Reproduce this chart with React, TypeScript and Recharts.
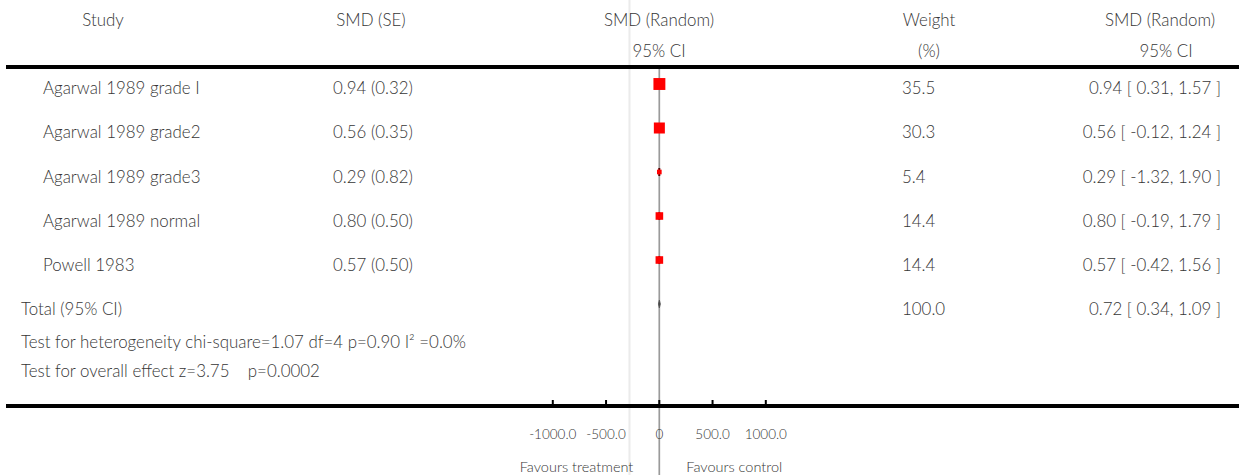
import React from 'react';
import { ComposedChart, Scatter, XAxis, YAxis, ReferenceLine, ErrorBar } from 'recharts';

// ---------- data ----------
const studies = [
  'Agarwal 1989 grade I',
  'Agarwal 1989 grade2',
  'Agarwal 1989 grade3',
  'Agarwal 1989 normal',
  'Powell 1983',
];
const smd = [0.94, 0.56, 0.29, 0.8, 0.57];
const se = [0.32, 0.35, 0.82, 0.5, 0.5];
const ciLow = [0.31, -0.12, -1.32, -0.19, -0.42];
const ciHigh = [1.57, 1.24, 1.9, 1.79, 1.56];
const weights = [35.5, 30.3, 5.4, 14.4, 14.4];

const totalLabel = 'Total (95% CI)';
const totalSmd = [0.72];
const totalLow = [0.34];
const totalHigh = [1.09];
const totalWeight = [100.0];

const heterogeneityText = 'Test for heterogeneity chi-square=1.07 df=4 p=0.90 I\u00B2 =0.0%';
const overallText = 'Test for overall effect z=3.75    p=0.0002';

const headerRow1 = ['Study', 'SMD (SE)', 'SMD (Random)', 'Weight', 'SMD (Random)'];
const headerRow2 = ['', '', '95% CI', '(%)', '95% CI'];

const xTicks = [-1000, -500, 0, 500, 1000];
const xTickLabels = ['-1000.0', '-500.0', '0', '500.0', '1000.0'];
const favoursLeft = 'Favours treatment';
const favoursRight = 'Favours control';

// ---------- layout ----------
const W = 1239;
const H = 475;
const FONT = 'Lato, "Open Sans", sans-serif';
const TEXT = '#363636';
const FS = 16.9;
const FW = 300;
const X_DOMAIN: [number, number] = [-6134, 5443];
const Y_DOMAIN: [number, number] = [-1.909, 7.318];
const TOP_RULE = -0.386;
const BOTTOM_Y = 8.886;
const GUIDE_X = -280;
const TOTAL_ROW = 5;
const H1_ROW = -1.55;
const H2_ROW = -0.86;
const HET_ROW = 5.75;
const OVR_ROW = 6.43;
const yTicks = [H1_ROW, H2_ROW, 0, 1, 2, 3, 4, TOTAL_ROW, HET_ROW, OVR_ROW];

const fmt2 = (v: number) => v.toFixed(2);
const ciText = (e: number, l: number, h: number) => `${fmt2(e)} [ ${fmt2(l)}, ${fmt2(h)} ]`;

const T = (p: any) => (
  <text
    fontFamily={FONT}
    fontSize={FS}
    fontWeight={FW}
    fill={TEXT}
    dominantBaseline="central"
    style={{ whiteSpace: 'pre' }}
    {...p}
  />
);

const RowTick = (props: any) => {
  const { y, payload } = props;
  const v = payload.value;
  const ty = y + 4;
  if (v === H1_ROW || v === H2_ROW) {
    const hr = v === H1_ROW ? headerRow1 : headerRow2;
    return (
      <g>
        <T x={103} y={ty} textAnchor="middle">{hr[0]}</T>
        <T x={371} y={ty} textAnchor="middle">{hr[1]}</T>
        <T x={659} y={ty} textAnchor="middle">{hr[2]}</T>
        <T x={929} y={ty} textAnchor="middle">{hr[3]}</T>
        <T x={v === H1_ROW ? 1160 : 1166} y={ty} textAnchor="middle">{hr[4]}</T>
      </g>
    );
  }
  if (v === TOTAL_ROW) {
    return (
      <g>
        <T x={21} y={ty} textAnchor="start">{totalLabel}</T>
        <T x={902} y={ty} textAnchor="start">{totalWeight[0].toFixed(1)}</T>
        <T x={1221} y={ty} textAnchor="end">{ciText(totalSmd[0], totalLow[0], totalHigh[0])}</T>
      </g>
    );
  }
  if (v === HET_ROW) {
    return <T x={21} y={ty} textAnchor="start">{heterogeneityText}</T>;
  }
  if (v === OVR_ROW) {
    return <T x={21} y={ty} textAnchor="start">{overallText}</T>;
  }
  const i = v as number;
  if (i >= 0 && i < studies.length) {
    return (
      <g>
        <T x={43} y={ty} textAnchor="start">{studies[i]}</T>
        <T x={333} y={ty} textAnchor="start">{`${fmt2(smd[i])} (${fmt2(se[i])})`}</T>
        <T x={902} y={ty} textAnchor="start">{weights[i].toFixed(1)}</T>
        <T x={1221} y={ty} textAnchor="end">{ciText(smd[i], ciLow[i], ciHigh[i])}</T>
      </g>
    );
  }
  return <g />;
};

const XTick = (props: any) => {
  const { x, y, payload, index } = props;
  const label = xTickLabels[index] ?? String(payload.value);
  return (
    <g>
      <line x1={x} x2={x} y1={y - 6} y2={y} stroke="#000" strokeWidth={2} />
      <T x={x} y={y + 28} textAnchor="middle" fontSize={13.5}>{label}</T>
      {payload.value === 0 && (
        <g>
          <T x={x - 26} y={y + 60} textAnchor="end" fontSize={14.5}>{favoursLeft}</T>
          <T x={x + 27} y={y + 60} textAnchor="start" fontSize={14.5}>{favoursRight}</T>
        </g>
      )}
    </g>
  );
};

const renderSquare = (props: any) => {
  const { cx, cy, payload } = props;
  const s = 2 * Math.sqrt(payload.w);
  return <rect x={cx - s / 2} y={cy - s / 2} width={s} height={s} fill="#ff0000" />;
};

const renderNothing = () => <g />;

const renderDiamond = (props: any) => {
  const { cx, cy } = props;
  return (
    <polygon
      points={`${cx - 1},${cy} ${cx},${cy - 4} ${cx + 1},${cy} ${cx},${cy + 4}`}
      fill="#444"
      stroke="#555"
      strokeWidth={0.8}
    />
  );
};

export default function App() {
  const rows = studies.map((name, i) => ({
    name,
    x: smd[i],
    y: i,
    w: weights[i],
    err: [smd[i] - ciLow[i], ciHigh[i] - smd[i]],
  }));
  const totalRows = totalSmd.map((e, i) => ({
    name: totalLabel,
    x: e,
    y: TOTAL_ROW,
    err: [e - totalLow[i], totalHigh[i] - e],
  }));
  return (
    <div style={{ position: 'absolute', left: 0, top: 0, width: W, height: H, background: '#fff' }}>
      <ComposedChart width={W} height={H} margin={{ top: 0, right: 0, bottom: 0, left: 5 }}>
        <XAxis
          type="number"
          dataKey="x"
          domain={X_DOMAIN}
          ticks={xTicks}
          interval={0}
          tickSize={0}
          tickMargin={0}
          tickLine={false}
          axisLine={{ stroke: '#000', strokeWidth: 4 }}
          height={69}
          tick={<XTick />}
          allowDataOverflow
        />
        <YAxis
          type="number"
          dataKey="y"
          domain={Y_DOMAIN}
          reversed
          ticks={yTicks}
          interval={0}
          width={1}
          axisLine={false}
          tickLine={false}
          tickSize={0}
          tickMargin={0}
          tick={<RowTick />}
          allowDataOverflow
        />
        <ReferenceLine
          segment={[{ x: GUIDE_X, y: Y_DOMAIN[0] }, { x: GUIDE_X, y: BOTTOM_Y }]}
          stroke="#ebebeb"
          strokeWidth={2}
          ifOverflow="visible"
        />
        <ReferenceLine
          segment={[{ x: 0, y: TOP_RULE }, { x: 0, y: BOTTOM_Y }]}
          stroke="#9a9a9a"
          strokeWidth={1.7}
          ifOverflow="visible"
        />
        <ReferenceLine y={TOP_RULE} stroke="#000" strokeWidth={4} />
        <Scatter data={rows} shape={renderSquare} isAnimationActive={false} />
        <Scatter data={rows} shape={renderNothing} isAnimationActive={false}>
          <ErrorBar dataKey="err" direction="x" width={4} stroke="#550000" strokeWidth={1.5} isAnimationActive={false} />
        </Scatter>
        <Scatter data={totalRows} shape={renderDiamond} isAnimationActive={false} />
      </ComposedChart>
    </div>
  );
}
